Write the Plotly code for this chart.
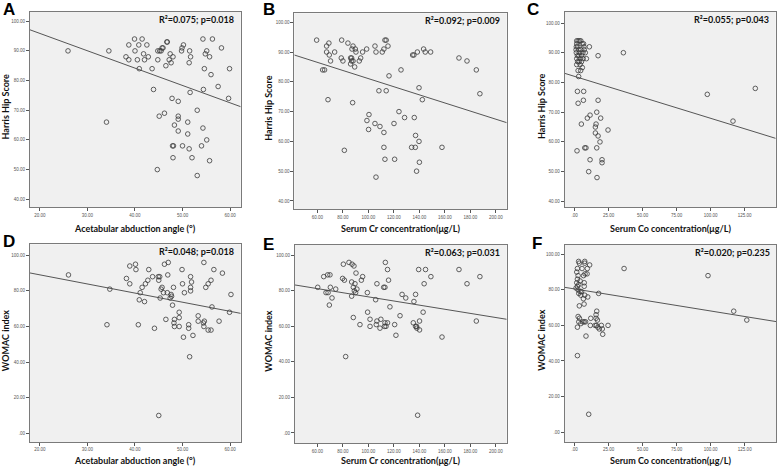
import plotly.graph_objects as go

# ---------------- data ----------------
angle_A = [25.9, 34.5, 34.0, 38.1, 38.7, 38.7, 39.9, 40.0, 40.8, 40.5, 40.9, 41.5, 41.8, 42.0, 42.5, 42.8,
           43.6, 43.9, 44.8, 44.8, 44.7, 45.1, 45.2, 45.5, 45.7, 45.9, 46.2, 46.5, 46.7, 46.8, 47.2, 47.4,
           47.6, 47.8, 48.0, 47.9, 48.1, 48.0, 48.3, 49.1, 49.1, 49.1, 49.1, 49.8, 49.9, 50.2, 50.0, 51.1,
           51.1, 51.4, 51.5, 51.6, 51.7, 51.4, 52.0, 53.1, 53.1, 54.0, 54.3, 54.3, 54.4, 54.6, 54.8, 55.1,
           55.1, 55.7, 55.7, 56.0, 56.3, 57.5, 58.2, 59.7, 59.9]
hhs_A = [90, 90, 66, 88, 92, 87, 94, 90, 92, 87, 84, 94, 89, 87, 92, 88,
         84, 77, 90, 87, 50, 68, 90, 90, 91, 91, 69, 85, 93, 93, 87, 89,
         86, 74, 88, 58, 58, 54, 65, 73, 68, 67, 63, 90, 91, 92, 58, 66,
         62, 86, 90, 76, 88, 57, 54, 70, 48, 58, 94, 64, 77, 84, 89, 90,
         60, 88, 53, 82, 94, 78, 91, 74, 84]

cr_B = [59.5, 64.2, 65.7, 67.3, 67.3, 68.4, 69.1, 69.4, 70.4, 73.6, 79.1, 78.8, 80.1, 81.2, 84.0, 86.1,
        86.9, 86.9, 86.1, 87.2, 88.0, 87.7, 88.0, 89.3, 89.8, 90.3, 92.9, 94.0, 95.5, 98.7, 98.9, 100.5,
        100.2, 105.2, 106.0, 105.2, 106.0, 108.3, 109.1, 110.9, 112.2, 113.0, 114.0, 112.2, 112.2, 113.0,
        114.0, 115.4, 116.2, 120.6, 120.1, 124.0, 125.6, 128.4, 133.9, 134.7, 135.7, 136.0, 137.0, 136.8,
        137.8, 138.4, 139.7, 139.7, 140.0, 142.3, 143.3, 144.6, 148.8, 157.7, 171.0, 177.3, 184.6, 187.4]
hhs_B = [94, 84, 84, 92, 90, 74, 93, 89, 87, 90, 94, 88, 87, 57, 93, 88,
         88, 87, 86, 91, 92, 73, 87, 85, 91, 90, 87, 88, 90, 91, 67, 69,
         64, 92, 90, 66, 48, 77, 65, 90, 91, 94, 94, 63, 58, 54,
         77, 92, 82, 54, 66, 70, 84, 68, 58, 89, 89, 68, 62, 58,
         50, 90, 60, 78, 53, 74, 91, 90, 90, 58, 88, 87, 84, 76]

co_C = [1.5, 2.5, 3.5, 4.5, 1.5, 5.5, 6.5, 1.2, 2.2, 6.8, 10.8, 1.0, 3.0, 4.5, 7.0, 1.2, 3.5, 6.0, 7.8,
        2.0, 3.0, 5.0, 1.5, 4.0, 6.2, 8.6, 2.2, 3.2, 5.0, 1.5, 4.0, 5.6, 4.4, 2.5, 2.9,
        17.2, 35.8, 2.0, 6.6, 2.5, 6.4, 17.2, 4.9, 9.3, 11.3, 16.2, 19.1, 15.7, 15.2, 24.5, 15.2, 17.2,
        18.6, 1.7, 7.4, 8.3, 16.2, 11.3, 20.1, 20.1, 10.3, 16.4, 97.5, 116.4, 132.8]
hhs_C = [94, 94, 94, 94, 93, 93, 93, 92, 92, 92, 92, 91, 91, 91, 91, 90, 90, 90, 90,
         89, 89, 89, 88, 88, 88, 88, 87, 87, 87, 86, 86, 85, 84, 84, 82,
         89, 90, 77, 77, 73, 74, 74, 66, 68, 69, 70, 68, 66, 65, 64, 63, 62,
         60, 57, 58, 58, 58, 54, 54, 53, 50, 48, 76, 67, 78]

angle_D = [26.0, 34.7, 34.1, 38.2, 38.9, 38.9, 40.1, 40.2, 41.1, 40.9, 40.7, 41.5, 42.0, 42.2, 42.7, 42.9,
           43.7, 44.1, 44.9, 45.2, 45.0, 45.3, 45.0, 45.7, 45.5, 46.0, 46.2, 46.5, 46.8, 46.9, 47.0, 47.4,
           47.6, 47.7, 47.9, 48.1, 48.2, 48.3, 48.3, 49.3, 49.3, 49.3, 49.9, 50.0, 50.2, 50.4, 51.3, 51.3,
           51.5, 51.7, 51.7, 51.7, 51.9, 52.2, 53.3, 53.3, 54.4, 54.6, 54.5, 54.5, 54.9, 55.4, 55.4, 56.0,
           56.0, 56.2, 56.6, 57.7, 58.4, 59.9, 60.2]
womac_D = [89, 81, 61, 87, 94, 84, 95, 92, 79, 75, 61, 82, 74, 84, 86, 92,
           88, 59, 88, 88, 86, 76, 10, 82, 81, 79, 95, 64, 79, 89, 96, 76,
           78, 77, 72, 82, 62, 60, 64, 68, 65, 60, 92, 84, 54, 79, 61, 59,
           43, 80, 82, 88, 85, 55, 66, 63, 62, 63, 60, 96, 82, 84, 58, 58,
           86, 71, 92, 63, 90, 68, 78]

cr_E = [60.3, 65.0, 66.8, 68.4, 68.1, 69.9, 70.2, 69.4, 71.5, 74.4, 80.4, 79.8, 81.2, 82.2, 84.8, 87.2,
        88.7, 86.9, 86.9, 88.2, 89.0, 89.5, 90.0, 90.3, 91.0, 88.2, 93.4, 94.5, 95.5, 99.2, 99.4, 101.3,
        101.3, 105.7, 106.7, 106.2, 106.7, 109.1, 109.8, 112.0, 113.0, 113.3, 113.0, 113.8, 112.6, 115.0,
        115.0, 115.8, 116.9, 120.6, 121.6, 124.8, 126.4, 129.3, 135.2, 135.7, 137.0, 137.0, 137.8, 138.0,
        139.4, 138.6, 140.1, 140.1, 142.9, 143.7, 144.8, 149.0, 157.7, 171.0, 177.3, 184.6, 187.4]
womac_E = [82, 88, 79, 79, 89, 89, 82, 72, 76, 81, 95, 87, 86, 43, 96, 95,
           94, 85, 77, 82, 80, 84, 79, 90, 81, 65, 61, 86, 88, 79, 68, 64,
           60, 75, 84, 61, 63, 59, 64, 82, 82, 96, 62, 60, 60, 62,
           92, 86, 71, 61, 55, 66, 78, 76, 62, 74, 78, 60, 60, 59,
           92, 10, 63, 58, 68, 84, 92, 88, 54, 92, 84, 63, 88]

co_F = [36.3, 98.0, 116.9, 126.5, 2.0, 10.3, 17.6, 24.5,
        2.9, 7.4, 3.4, 7.4, 11.0, 2.0, 5.4, 9.3, 1.5, 7.6, 9.1, 2.5, 6.5, 2.0, 4.0, 7.0, 1.5, 3.0, 2.0,
        7.0, 1.0, 2.5, 4.0, 5.0, 3.0, 4.5, 7.4, 6.4, 9.6, 3.4, 6.9, 2.5, 3.5, 3.0, 2.0, 4.5, 6.0, 7.0,
        8.0, 8.3, 11.5, 11.8, 15.7, 15.7, 16.2, 16.7, 15.0, 16.0, 17.0, 18.1, 19.6, 20.3, 20.6]
womac_F = [92, 88, 68, 63, 43, 10, 78, 60,
           96, 96, 95, 95, 94, 92, 92, 92, 90, 89, 89, 88, 88, 86, 85, 84, 84, 83, 82,
           82, 81, 80, 79, 79, 78, 77, 77, 75, 76, 71, 72, 65, 64, 62, 59, 61, 62, 62,
           62, 54, 60, 64, 64, 66, 68, 63, 60, 60, 59, 58, 60, 58, 55]

# fitted lines: (intercept, slope)
fit_A = (107.55, -0.584)
fit_B = (94.73, -0.1365)
fit_C = (82.03, -0.141)
fit_D = (99.26, -0.512)
fit_E = (88.25, -0.1164)
fit_F = (80.5, -0.124)

stats = ["R\u00b2=0.075; p=0.018", "R\u00b2=0.092; p=0.009", "R\u00b2=0.055; p=0.043",
         "R\u00b2=0.048; p=0.018", "R\u00b2=0.063; p=0.031", "R\u00b2=0.020; p=0.235"]
letters = ["A", "B", "C", "D", "E", "F"]
x_titles = ["Acetabular abduction angle (\u00b0)", "Serum Cr concentration(\u03bcg/L)",
            "Serum Co concentration(\u03bcg/L)"]
y_titles = ["Harris Hip Score", "WOMAC index"]

ticks_angle = [20, 30, 40, 50, 60]
ticks_cr = [60, 80, 100, 120, 140, 160, 180, 200]
ticks_co = [0, 25, 50, 75, 100, 125]
ticks_hhs = [40, 50, 60, 70, 80, 90, 100]
ticks_womac = [0, 20, 40, 60, 80, 100]


def lab(v):
    s = "%.2f" % v
    return s[1:] if s.startswith("0") else s


W, H = 778, 467
# pixel boxes (left, right, top, bottom)
boxes = [(30, 240.7, 11.7, 207.3), (294.3, 506.7, 13.3, 209.3), (564.7, 775.7, 11.7, 207.3),
         (30, 240.7, 244.3, 442), (295, 506.7, 245, 443.3), (564.7, 776.3, 244.7, 442)]
xranges = [(17.9, 62.25), (42, 208.4), (-7.35, 147.8), (17.9, 62.25), (42.5, 208.4), (-7.35, 148.2)]
yranges = [(37.3, 103.2), (37.2, 103.0), (38.0, 103.8), (-4.9, 106.2), (-5.8, 105.8), (-5.6, 105.4)]
letter_pos = [(1, -2), (261, -2), (525, -2), (1, 230), (261, 233), (530, 232)]
xs = [angle_A, cr_B, co_C, angle_D, cr_E, co_F]
ys = [hhs_A, hhs_B, hhs_C, womac_D, womac_E, womac_F]
fits = [fit_A, fit_B, fit_C, fit_D, fit_E, fit_F]
xticks = [ticks_angle, ticks_cr, ticks_co] * 2
yticks = [ticks_hhs] * 3 + [ticks_womac] * 3

fig = go.Figure()
layout = dict(width=W, height=H, margin=dict(l=0, r=0, t=0, b=0), paper_bgcolor="white",
              plot_bgcolor="#f0f0f0", showlegend=False)
annotations = []
FONT = "Lato"
for i in range(6):
    n = "" if i == 0 else str(i + 1)
    l, r, t, b = boxes[i]
    xd = [l / W, r / W]
    yd = [1 - b / H, 1 - t / H]
    fig.add_trace(go.Scatter(x=xs[i], y=ys[i], mode="markers", xaxis="x" + n, yaxis="y" + n,
                             marker=dict(symbol="circle-open", size=4.6, color="#3a3a3a",
                                         line=dict(width=0.8, color="#3a3a3a")),
                             hoverinfo="skip"))
    a, s = fits[i]
    x0, x1 = xranges[i]
    fig.add_trace(go.Scatter(x=[x0, x1], y=[a + s * x0, a + s * x1], mode="lines",
                             xaxis="x" + n, yaxis="y" + n,
                             line=dict(color="#444444", width=0.9), hoverinfo="skip"))
    common = dict(showgrid=False, zeroline=False, showline=True, mirror=True, linecolor="#7a7a7a",
                  linewidth=1, ticks="outside", ticklen=3, tickcolor="#555555", tickwidth=1,
                  tickfont=dict(size=4.5, color="#555555", family="Liberation Sans"))
    layout["xaxis" + n] = dict(common, domain=xd, range=list(xranges[i]), anchor="y" + n,
                               tickvals=xticks[i], ticktext=[lab(v) for v in xticks[i]])
    layout["yaxis" + n] = dict(common, domain=yd, range=list(yranges[i]), anchor="x" + n,
                               tickvals=yticks[i], ticktext=[lab(v) for v in yticks[i]])
    # R^2 text
    annotations.append(dict(text="<b>%s</b>" % stats[i], xref="paper", yref="paper",
                            x=(r - 4.5) / W, y=1 - (t + 7.5) / H, xanchor="right", yanchor="middle",
                            showarrow=False, font=dict(size=9, color="#111111", family=FONT)))
    # x title
    xt_y = 228 if i < 3 else 460
    annotations.append(dict(text="<b>%s</b>" % x_titles[i % 3], xref="paper", yref="paper",
                            x=(l + r) / 2 / W, y=1 - xt_y / H, xanchor="center", yanchor="middle",
                            showarrow=False, font=dict(size=9, color="#111111", family=FONT)))
    # y title
    yt_x = [5, 268.5, 541.5][i % 3]
    annotations.append(dict(text="<b>%s</b>" % y_titles[i // 3], xref="paper", yref="paper",
                            x=yt_x / W, y=1 - ((t + b) / 2 - 3) / H, xanchor="center", yanchor="middle",
                            textangle=-90, showarrow=False,
                            font=dict(size=9, color="#111111", family=FONT)))
    # panel letter
    lx, ly = letter_pos[i]
    annotations.append(dict(text="<b>%s</b>" % letters[i], xref="paper", yref="paper",
                            x=lx / W, y=1 - ly / H, xanchor="left", yanchor="top",
                            showarrow=False,
                            font=dict(size=17, color="#000000", family="Liberation Sans")))

layout["annotations"] = annotations
fig.update_layout(**layout)
fig.write_html("out.html", config={"displayModeBar": False},
               post_script="document.body.style.margin='0';document.body.style.overflow='hidden';")
